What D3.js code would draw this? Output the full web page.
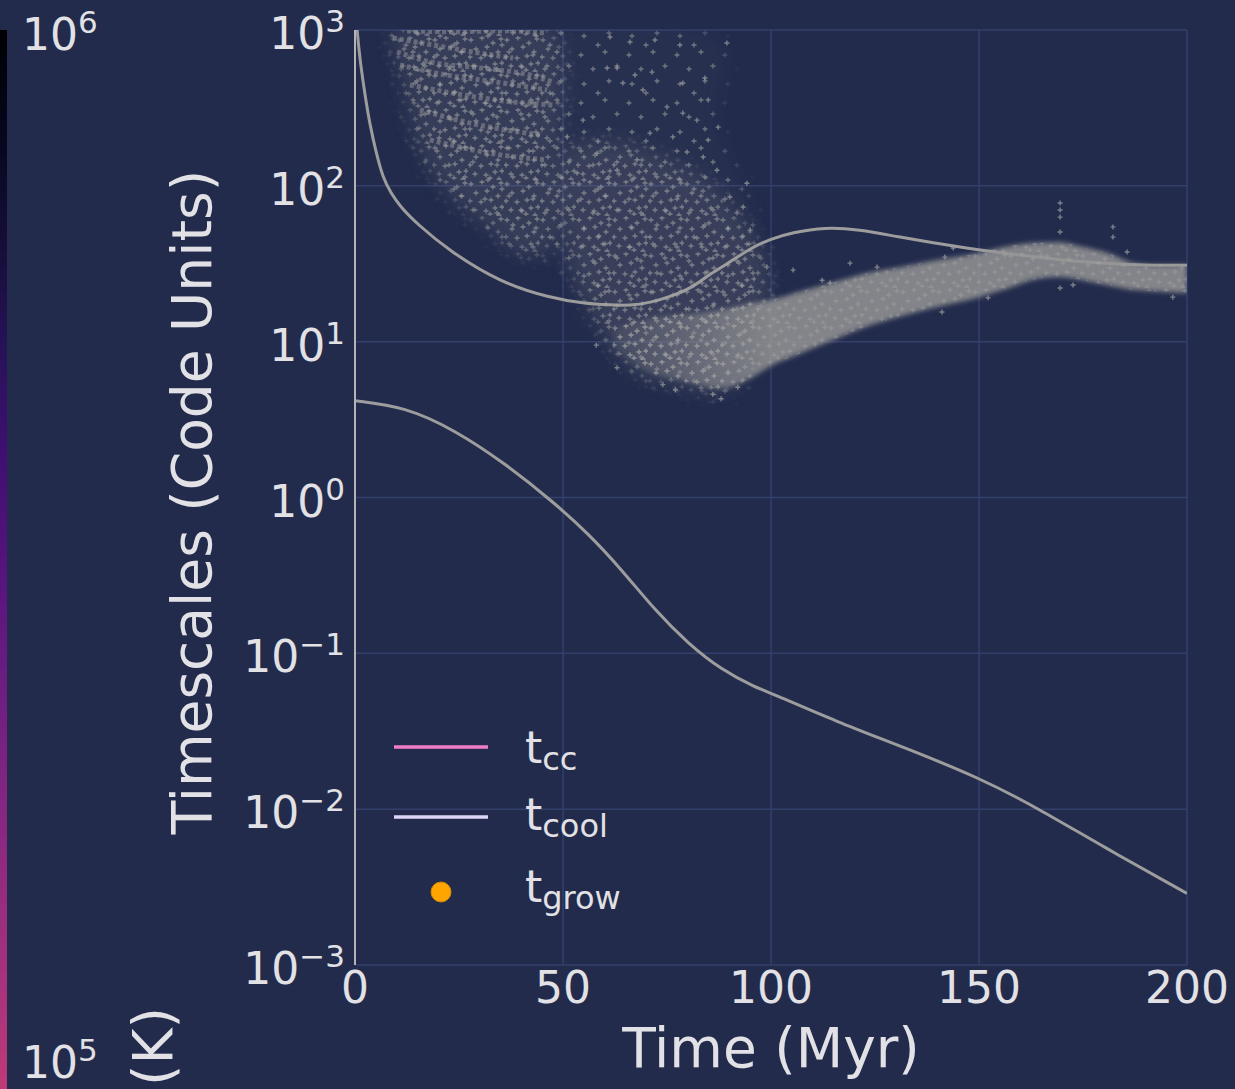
<!DOCTYPE html>
<html><head><meta charset="utf-8">
<script src="https://cdn.jsdelivr.net/npm/d3@7"></script>
<style>
html,body{margin:0;padding:0;background:#222b4c;overflow:hidden;}
svg{display:block;}
text{font-family:"DejaVu Sans",sans-serif;fill:#e2e2e6;}
</style></head><body>
<svg id="chart" width="1235" height="1089"></svg>
<script>
// ---------- data ----------
const xTicks = [0, 50, 100, 150, 200];
const yPowers = [-3, -2, -1, 0, 1, 2, 3];
const xLabel = "Time (Myr)";
const yLabel = "Timescales (Code Units)";

// t_cc curve (upper grey line)
const tccTime  = [0, 0.48, 1.2, 2.4, 3.6, 5.05, 6.73, 8.65, 10.8, 14.9, 22.8, 34.9, 46.9, 55, 61.3, 66, 71, 76, 81.3, 85, 89, 95, 100, 105, 113, 121, 131, 139, 147, 155, 165, 175, 187, 200];
const tccValue = [1500, 1000, 641, 383, 245, 165, 112, 90, 74, 57, 38, 24, 19.1, 17.6, 17.2, 17.0, 17.8, 19.5, 22.4, 26.9, 30.9, 39.8, 45.7, 50.1, 54.3, 52.5, 46.8, 43.2, 39.8, 37.2, 34.7, 32.4, 30.9, 30.9];

// t_cool curve (lower grey line)
const tcoolTime  = [0, 12, 24, 36, 48, 56, 64.2, 72.1, 80, 88.2, 96.2, 100, 115.9, 131.7, 150.2, 163.9, 179.8, 200];
const tcoolValue = [4.18, 3.82, 2.71, 1.66, 0.92, 0.589, 0.342, 0.189, 0.116, 0.078, 0.0607, 0.0556, 0.0363, 0.0251, 0.01585, 0.01023, 0.00575, 0.00288];

// t_grow scatter: dense band envelope
const bandTime = [62, 70, 80, 88, 95, 100, 107, 115, 123, 131, 139, 150, 157, 163, 169, 175, 181, 187, 193, 200];
const bandHigh = [12, 14, 15, 16, 17.5, 18.5, 21, 24, 27.5, 30, 33, 37, 41, 43, 43.5, 40.5, 37, 32, 31, 31];
const bandLow  = [9, 6.5, 5.5, 5.0, 5.8, 7, 8.4, 10.3, 12.5, 14.5, 16.5, 19.3, 22, 25, 26, 24.8, 23, 21.5, 21, 20.5];

// t_grow scatter: sparse cloud outline
const cloudTime  = [9, 60, 88, 87, 93, 99, 100, 95, 88, 78, 70, 64, 58.5, 52, 48, 40, 30, 22, 14, 10];
const cloudValue = [1100, 1100, 830, 238, 104, 30, 15, 5.8, 4.4, 5.1, 5.7, 7.6, 13.8, 24.8, 34, 36, 56, 83, 190, 640];

// t_grow scatter: denser first cloud
const cloud1Time  = [9.5, 48, 50, 49, 50, 46, 40, 31, 23, 16, 12];
const cloud1Value = [950, 950, 400, 160, 70, 38, 36, 58, 88, 170, 450];

// t_grow scatter: denser lower part of second cloud
const cloud2Time  = [51, 62, 72, 84, 93, 99, 97, 88, 78, 70, 64, 58, 53, 50];
const cloud2Value = [170, 190, 160, 110, 60, 30, 12, 4.9, 5.3, 5.9, 7.6, 13, 25, 60];

// t_grow scatter: striations in the early cloud
const stripes = [
  [[9.1, 889], [18.75, 801], [30, 711], [38, 661]],
  [[10.1, 723], [18, 624], [30, 571], [42, 514], [47.6, 463]],
  [[10.8, 596], [22.1, 514], [34.1, 463], [46.2, 412]],
  [[13.2, 444], [26, 383], [38, 345], [47.6, 330]],
  [[15.6, 307], [30, 245], [44.5, 212]],
  [[18, 197], [34.9, 158], [45.7, 147]],
  [[12.5, 985], [24, 975], [36, 990], [46, 955]]
];

// t_grow scatter: isolated points
const ptTime  = [169.5, 169.5, 169.5, 169.5, 182.2, 182.2, 185.6, 169.5, 172.6, 119, 143.8, 141.8, 112.3, 114.2, 125.5, 152.2, 141.1, 196.6,
                 61.3, 66.1, 72.1, 78.1, 89.4, 60.6, 63, 67.3, 71.4, 78.8, 84.1, 84.9, 87.3, 84.9, 69.2, 64.4, 75, 78.8, 82.2, 70.9, 76.4, 79.8, 83.7, 87, 94.2, 90.1, 93.3, 95, 99, 105.3, 54.8, 51, 58.2, 53.4, 63, 67.8,
                 88, 77, 63, 58, 86, 74, 92];
const ptValue = [77.6, 70, 63, 50.5, 54.5, 46.9, 37.6, 22.1, 23.1, 31.9, 39.9, 34.9, 24.8, 23.8, 30.1, 19.1, 15.5, 19.3,
                 902, 837, 863, 801, 826, 570, 570, 514, 537, 457, 492, 356, 238, 197, 412, 457, 321, 293, 264, 218, 206, 165, 153, 126, 104, 84.8, 73.1, 52, 30.1, 28.8, 264, 206, 162, 121, 126, 147,
                 4.3, 4.9, 6.8, 9.5, 4.6, 5.3, 5.1];

// legend
const legendNames  = ["cc", "cool", "grow"];
const legendColors = ["#f07cc8", "#dcd6f7", "#ffa500"];
const legendKinds  = ["line", "line", "dot"];

// colour bar (partially visible)
const cbarLabels = [6, 5];
const cbarUnit = "(K)";

// ---------- drawing ----------
const W = 1235, H = 1089;
const svg = d3.select("#chart");
svg.append("rect").attr("width", W).attr("height", H).attr("fill", "#222b4c");

const x = d3.scaleLinear().domain([0, 200]).range([355, 1187]);
const y = d3.scaleLog().domain([1e-3, 1e3]).range([965, 30]);
const px0 = x(0), px1 = x(200), py0 = y(1e3), py1 = y(1e-3);

const defs = svg.append("defs");
defs.append("clipPath").attr("id", "plotClip").append("rect")
  .attr("x", px0).attr("y", py0).attr("width", px1 - px0).attr("height", py1 - py0);

// colour bar gradient (magma)
const cg = defs.append("linearGradient").attr("id", "cbar").attr("x1", 0).attr("y1", 0).attr("x2", 0).attr("y2", 1);
d3.range(0, 11).forEach(i => cg.append("stop").attr("offset", i / 10).attr("stop-color", d3.interpolateMagma(0.52 * i / 10)));

// band fade-in gradient
const bg = defs.append("linearGradient").attr("id", "bandGrad").attr("gradientUnits", "userSpaceOnUse")
  .attr("x1", x(62)).attr("x2", x(100)).attr("y1", 0).attr("y2", 0);
bg.append("stop").attr("offset", 0).attr("stop-color", "#939393").attr("stop-opacity", 0.12);
bg.append("stop").attr("offset", 0.6).attr("stop-color", "#939393").attr("stop-opacity", 0.55);
bg.append("stop").attr("offset", 1).attr("stop-color", "#939393").attr("stop-opacity", 0.86);

function blurFilter(id, sd) {
  defs.append("filter").attr("id", id).attr("filterUnits", "userSpaceOnUse")
    .attr("x", 0).attr("y", 0).attr("width", W).attr("height", H)
    .append("feGaussianBlur").attr("stdDeviation", sd);
}
blurFilter("soft", 2.5);
blurFilter("wide", 9);

// plus-marker texture patterns (style only)
const plusPath = "M-2.5,0H2.5M0,-2.5V2.5";
function makePattern(id, size, spots, op) {
  const p = defs.append("pattern").attr("id", id).attr("patternUnits", "userSpaceOnUse")
    .attr("width", size).attr("height", size);
  spots.forEach(s => p.append("path").attr("d", plusPath).attr("transform", `translate(${s[0]},${s[1]})`)
    .attr("stroke", "#a6a6a6").attr("stroke-width", 1.3).attr("opacity", op));
}
makePattern("ptsSparse", 48, [[5, 7], [29, 4], [17, 21], [41, 18], [8, 36], [33, 33], [22, 45]], 0.6);
makePattern("ptsDense", 36, [[3, 4], [14, 2], [25, 7], [33, 3], [8, 13], [19, 11], [30, 16], [2, 21], [13, 22], [23, 20], [34, 27], [7, 30], [18, 31], [27, 28], [31, 35], [22, 34]], 0.62);

// soft-edged masks for the scatter clouds
const poly = d3.line().x(d => x(d[0])).y(d => y(d[1])).curve(d3.curveCatmullRomClosed.alpha(0.5));
function cloudMask(id, pts) {
  defs.append("mask").attr("id", id).attr("maskUnits", "userSpaceOnUse")
    .attr("x", 0).attr("y", 0).attr("width", W).attr("height", H)
    .append("path").datum(pts).attr("d", poly).attr("fill", "white").attr("filter", "url(#wide)");
}
cloudMask("m0", cloudTime.map((t, i) => [t, cloudValue[i]]));
cloudMask("m1", cloud1Time.map((t, i) => [t, cloud1Value[i]]));
cloudMask("m2", cloud2Time.map((t, i) => [t, cloud2Value[i]]));

// grid
const grid = svg.append("g");
grid.selectAll("line.gx").data(xTicks).join("line")
  .attr("x1", d => x(d)).attr("x2", d => x(d)).attr("y1", py0).attr("y2", py1)
  .attr("stroke", "#34406c").attr("stroke-width", 1.5);
grid.selectAll("line.gy").data(yPowers).join("line")
  .attr("x1", px0).attr("x2", px1).attr("y1", d => y(Math.pow(10, d))).attr("y2", d => y(Math.pow(10, d)))
  .attr("stroke", "#34406c").attr("stroke-width", 1.5);

const plot = svg.append("g").attr("clip-path", "url(#plotClip)");

// curves (drawn under the scatter)
const line = d3.line().x(d => x(d[0])).y(d => y(d[1])).curve(d3.curveBasis);
plot.append("path").datum(tccTime.map((t, i) => [t, tccValue[i]])).attr("d", line)
  .attr("fill", "none").attr("stroke", "#9d9d9d").attr("stroke-width", 3);
plot.append("path").datum(tcoolTime.map((t, i) => [t, tcoolValue[i]])).attr("d", line)
  .attr("fill", "none").attr("stroke", "#9d9d9d").attr("stroke-width", 3);

// scatter clouds (textured, soft edged)
function cloudLayer(maskId, haze, pattern) {
  const g = plot.append("g").attr("mask", `url(#${maskId})`);
  g.append("rect").attr("x", px0).attr("y", py0).attr("width", px1 - px0).attr("height", py1 - py0)
    .attr("fill", "#9a9a9a").attr("opacity", haze);
  g.append("rect").attr("x", px0).attr("y", py0).attr("width", px1 - px0).attr("height", py1 - py0)
    .attr("fill", `url(#${pattern})`);
}
cloudLayer("m0", 0.05, "ptsSparse");
cloudLayer("m1", 0.13, "ptsDense");
cloudLayer("m2", 0.15, "ptsDense");

// striations
plot.selectAll("path.stripe").data(stripes).join("path")
  .attr("d", d3.line().x(d => x(d[0])).y(d => y(d[1])).curve(d3.curveMonotoneX))
  .attr("fill", "none").attr("stroke", "#a2a2a2").attr("stroke-width", 5)
  .attr("stroke-dasharray", "4 3").attr("opacity", 0.45);

// dense band
const bandData = bandTime.map((t, i) => [t, bandLow[i], bandHigh[i]]);
const area = d3.area().x(d => x(d[0])).y0(d => y(d[1])).y1(d => y(d[2])).curve(d3.curveMonotoneX);
plot.append("path").datum(bandData).attr("d", area).attr("fill", "url(#bandGrad)").attr("filter", "url(#soft)");
plot.append("path").datum(bandData).attr("d", area).attr("fill", "url(#ptsDense)").attr("opacity", 0.7);

// isolated points
plot.selectAll("path.pt").data(ptTime.map((t, i) => [t, ptValue[i]])).join("path")
  .attr("d", plusPath).attr("transform", d => `translate(${x(d[0])},${y(d[1])})`)
  .attr("stroke", "#a4a4a4").attr("stroke-width", 1.4).attr("opacity", 0.7);

// left spine
svg.append("line").attr("x1", px0).attr("x2", px0).attr("y1", py0).attr("y2", py1)
  .attr("stroke", "#b4b4b4").attr("stroke-width", 2);

// y tick labels
const yt = svg.selectAll("text.yt").data(yPowers).join("text")
  .attr("x", 345).attr("y", d => y(Math.pow(10, d)) + 19).attr("text-anchor", "end").attr("font-size", 44);
yt.append("tspan").text("10");
yt.append("tspan").attr("font-size", 31).attr("dy", -17).text(d => (d < 0 ? "\u2212" : "") + Math.abs(d));

// x tick labels
svg.selectAll("text.xt").data(xTicks).join("text")
  .attr("x", d => x(d)).attr("y", 1003).attr("text-anchor", "middle").attr("font-size", 44).text(d => d);

// axis labels
svg.append("text").attr("x", x(100)).attr("y", 1067).attr("text-anchor", "middle").attr("font-size", 55).text(xLabel);
svg.append("text").attr("transform", "translate(211,502) rotate(-90)").attr("text-anchor", "middle")
  .attr("font-size", 55).text(yLabel);

// colour bar strip + labels
svg.append("rect").attr("x", 0).attr("y", 30).attr("width", 7).attr("height", H - 30).attr("fill", "url(#cbar)");
const cbY = [50, 1078];
const cl = svg.selectAll("text.cb").data(cbarLabels).join("text")
  .attr("x", 22).attr("y", (d, i) => cbY[i]).attr("font-size", 44);
cl.append("tspan").text("10");
cl.append("tspan").attr("font-size", 31).attr("dy", -17).text(d => d);
svg.append("text").attr("transform", "translate(172,1007) rotate(-90)").attr("text-anchor", "end")
  .attr("font-size", 55).text(cbarUnit);

// legend
const rowY = [747, 817, 892];
const baseY = [763, 830, 902];
const lg = svg.append("g");
legendNames.forEach((n, i) => {
  if (legendKinds[i] === "line") {
    lg.append("line").attr("x1", 394).attr("x2", 488).attr("y1", rowY[i]).attr("y2", rowY[i])
      .attr("stroke", legendColors[i]).attr("stroke-width", 3.5);
  } else {
    lg.append("circle").attr("cx", 441).attr("cy", rowY[i]).attr("r", 10)
      .attr("fill", legendColors[i]).attr("stroke", "#d48a00").attr("stroke-width", 1);
  }
  const t = lg.append("text").attr("x", 525).attr("y", baseY[i]).attr("font-size", 44);
  t.append("tspan").text("t");
  t.append("tspan").attr("font-size", 32).attr("dy", 7).text(n);
});
</script>
</body></html>
